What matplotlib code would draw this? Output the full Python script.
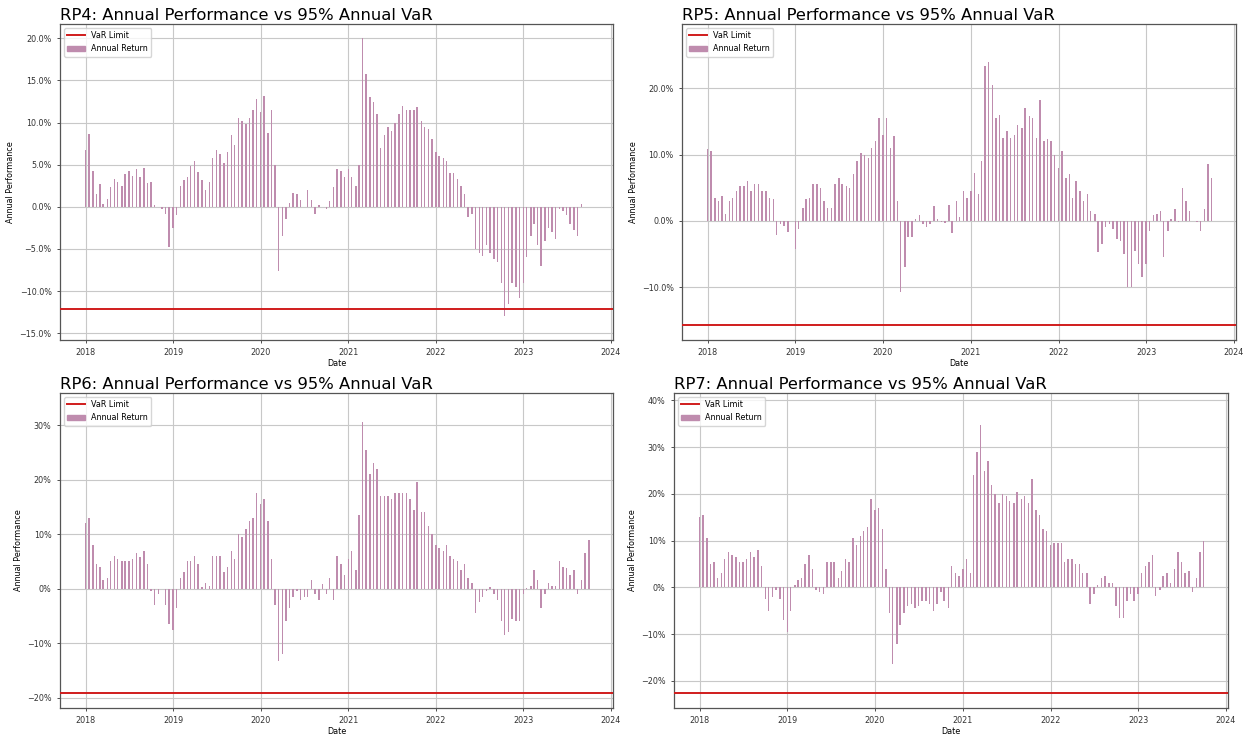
import numpy as np
import pandas as pd
import matplotlib
matplotlib.use("Agg")
import matplotlib.pyplot as plt
import matplotlib.dates as mdates
from matplotlib.ticker import PercentFormatter, MultipleLocator
from matplotlib.lines import Line2D
from matplotlib.patches import Patch

rp4_ret = [
    6.7, 8.6, 4.2, 1.5, 2.7, 0.3, 0.9, 2.3, 3.3, 3.0, 2.5, 3.9, 4.2, 3.7, 4.5, 3.5, 4.6, 2.8, 2.9, 0.2, 0.0, -0.3, -0.8, -4.8,
    -2.5, -1.0, 2.5, 3.2, 3.5, 4.8, 5.5, 4.1, 3.2, 2.0, 3.0, 5.8, 6.8, 6.3, 5.2, 6.5, 8.5, 7.3, 10.5, 10.2, 9.8, 10.5, 11.5, 12.8,
    11.2, 13.2, 8.8, 11.5, 5.0, -7.6, -3.5, -1.5, 0.5, 1.7, 1.5, 0.8, 0.0, 2.0, 0.8, -0.8, 0.2, 0.0, -0.3, 0.7, 2.3, 4.5, 4.3, 3.5,
    4.5, 3.5, 2.5, 5.0, 20.0, 15.8, 13.0, 12.5, 11.0, 7.0, 8.5, 9.5, 9.0, 10.0, 11.0, 12.0, 11.5, 11.5, 11.5, 11.8, 10.2, 9.5, 9.2, 8.0,
    6.5, 6.0, 5.8, 5.5, 4.0, 4.0, 3.3, 2.5, 1.5, -1.2, -0.8, -5.0, -5.5, -5.8, -4.5, -5.5, -6.2, -6.5, -9.0, -13.0, -11.5, -9.0, -9.5, -10.8,
    -9.0, -6.0, -3.5, -2.0, -4.5, -7.0, -4.0, -2.5, -3.0, -3.8, -0.2, -0.5, -1.0, -2.0, -2.7, -3.5, 0.3,
]
rp5_ret = [
    10.8, 10.5, 3.5, 3.0, 3.8, 1.0, 3.0, 3.5, 4.5, 5.2, 5.2, 6.0, 4.5, 5.5, 5.5, 4.5, 4.5, 3.4, 3.3, -2.2, -0.5, -0.8, -1.7, 0.0,
    -4.2, -1.2, 2.0, 3.3, 3.5, 5.5, 5.5, 5.0, 3.0, 2.0, 2.0, 5.5, 6.5, 5.5, 5.2, 5.0, 7.0, 9.0, 10.2, 10.0, 9.5, 11.0, 12.0, 15.5,
    13.0, 15.5, 11.0, 12.8, 3.0, -10.7, -7.0, -2.5, -2.5, 0.3, 0.8, -0.5, -1.0, -0.5, 2.2, 0.2, -0.2, -0.3, 2.4, -1.8, 3.0, 0.5, 4.5, 3.5,
    4.5, 7.2, 4.0, 9.0, 23.3, 24.0, 20.5, 15.5, 16.0, 12.5, 13.5, 12.5, 13.0, 14.5, 14.0, 17.0, 15.8, 15.5, 12.5, 18.2, 12.0, 12.3, 12.0, 10.0,
    8.0, 10.5, 6.5, 7.0, 3.5, 6.0, 4.5, 3.0, 4.0, 1.5, 1.0, -4.7, -3.5, -1.0, -0.5, -1.2, -2.7, -3.0, -5.0, -10.0, -10.0, -4.5, -6.5, -8.5,
    -6.5, -1.5, 0.8, 1.0, 1.5, -5.5, -1.5, 0.3, 1.8, -0.2, 5.0, 3.0, 1.5, 0.0, -0.2, -1.5, 1.8, 8.5, 6.5,
]
rp6_ret = [
    12.0, 13.0, 8.0, 4.5, 4.0, 1.5, 2.0, 5.0, 6.0, 5.5, 5.0, 5.0, 5.0, 5.5, 6.5, 5.8, 7.0, 4.5, -0.5, -3.0, -1.0, 0.0, -3.0, -6.5,
    -7.5, -3.5, 2.0, 3.0, 5.0, 5.0, 6.0, 4.5, 0.3, 1.0, 0.5, 6.0, 6.0, 6.0, 3.0, 4.0, 7.0, 5.5, 10.0, 9.5, 11.0, 12.5, 13.0, 17.5,
    15.5, 16.5, 12.5, 5.5, -3.0, -13.2, -12.0, -6.0, -3.5, -1.5, -0.5, -2.0, -1.5, -1.5, 1.5, -1.0, -2.0, 0.8, -1.0, 2.0, -2.0, 6.0, 4.5, 2.5,
    5.5, 7.0, 3.5, 13.5, 30.5, 25.5, 21.0, 23.0, 22.0, 17.0, 17.0, 17.0, 16.5, 17.5, 17.5, 17.5, 17.5, 16.5, 14.5, 19.5, 14.0, 14.0, 11.5, 10.0,
    8.0, 7.5, 7.0, 8.0, 6.0, 5.5, 5.0, 3.5, 4.5, 2.0, 1.0, -4.5, -2.5, -1.5, -0.5, 0.3, -1.0, -2.0, -6.0, -8.5, -8.0, -5.5, -6.0, -6.0,
    -1.0, 0.2, 0.5, 3.5, 1.5, -3.5, -1.0, 1.0, 0.5, 0.5, 5.0, 4.0, 3.8, 2.5, 3.5, -1.0, 1.5, 6.5, 9.0,
]
rp7_ret = [
    15.0, 15.5, 10.5, 5.0, 5.5, 2.0, 3.0, 6.0, 7.5, 7.0, 6.5, 5.5, 5.5, 6.0, 7.5, 6.5, 8.0, 4.5, -2.5, -5.0, -2.0, -0.5, -2.5, -7.0,
    -9.5, -5.0, 0.5, 1.5, 2.0, 5.0, 7.0, 4.0, -0.5, -1.0, -1.5, 5.5, 5.5, 5.5, 2.0, 3.5, 6.0, 5.5, 10.5, 9.0, 11.0, 12.0, 13.0, 19.0,
    16.5, 17.0, 12.5, 4.0, -5.5, -16.3, -12.0, -8.0, -5.5, -4.0, -3.5, -4.5, -4.0, -3.0, -3.0, -3.5, -5.0, -3.5, -1.0, -3.0, -4.5, 4.5, 3.0, 2.5,
    4.0, 6.0, 3.0, 24.0, 29.0, 34.8, 25.0, 27.0, 22.0, 20.0, 18.0, 20.0, 19.5, 18.5, 18.0, 20.5, 19.0, 19.5, 18.0, 23.3, 16.5, 15.5, 12.5, 12.0,
    9.0, 9.5, 9.5, 9.5, 5.5, 6.0, 6.0, 5.0, 5.0, 3.0, 3.0, -3.5, -1.5, 0.5, 2.0, 2.5, 1.0, 1.0, -4.0, -6.5, -6.5, -3.0, -1.5, -3.0,
    -1.5, 3.0, 4.5, 5.5, 7.0, -1.8, -0.5, 2.5, 3.0, 1.0, 4.0, 7.5, 5.5, 3.0, 3.5, -1.0, 2.0, 7.5, 10.0,
]

names = ["RP4", "RP5", "RP6", "RP7"]
var_limits = [-12.1, -15.8, -19.2, -22.6]
returns = [rp4_ret, rp5_ret, rp6_ret, rp7_ret]

# axes boxes in pixels (left, top, right, bottom) of a 1250x738 canvas
boxes = [(60, 24, 613, 340), (682, 24, 1236, 340),
         (60, 393, 613, 708), (674, 393, 1228, 708)]
ylims = [(-15.8, 21.7), (-18.0, 29.7), (-21.9, 35.9), (-25.8, 41.6)]
ysteps = [5, 10, 10, 10]
ydec = [1, 1, 0, 0]

bar_col = "#bf8cae"
var_col = "#d01c1c"
fs = 5.8

W, H = 1250, 738
fig = plt.figure(figsize=(W / 100, H / 100), dpi=100)

for i in range(4):
    l, t, r, b = boxes[i]
    ax = fig.add_axes([l / W, 1 - b / H, (r - l) / W, (b - t) / H])
    ret = returns[i]
    dates = pd.date_range("2018-01-01", periods=len(ret), freq="SMS")

    ax.bar(dates, ret, width=6, color=bar_col, zorder=2)
    ax.axhline(var_limits[i], color=var_col, lw=1.4, zorder=3)

    ax.set_xlim(pd.Timestamp("2017-09-16"), pd.Timestamp("2024-01-10"))
    ax.set_ylim(*ylims[i])
    ax.xaxis.set_major_locator(mdates.YearLocator())
    ax.xaxis.set_major_formatter(mdates.DateFormatter("%Y"))
    ax.yaxis.set_major_locator(MultipleLocator(ysteps[i]))
    ax.yaxis.set_major_formatter(PercentFormatter(decimals=ydec[i]))
    ax.grid(True, color="#c8c8c8", lw=0.8, zorder=0)
    ax.set_axisbelow(True)
    ax.tick_params(labelsize=fs, length=2.5, width=0.6, colors="#333333")
    for s in ax.spines.values():
        s.set_color("#555555")
        s.set_linewidth(0.9)

    ax.set_title(names[i] + ": Annual Performance vs 95% Annual VaR",
                 loc="left", fontsize=11.8, pad=3)
    ax.set_xlabel("Date", fontsize=fs, labelpad=1)
    ax.set_ylabel("Annual Performance", fontsize=fs, labelpad=3)

    handles = [Line2D([], [], color=var_col, lw=1.4), Patch(color=bar_col)]
    ax.legend(handles, ["VaR Limit", "Annual Return"], loc="upper left",
              fontsize=fs, handlelength=2.2, framealpha=0.8)

fig.savefig("out.png", dpi=100)
